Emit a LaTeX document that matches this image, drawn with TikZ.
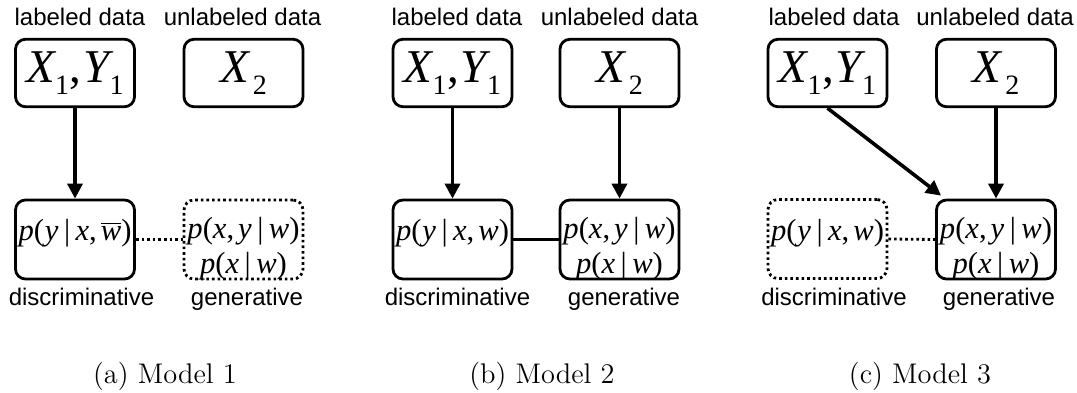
\documentclass[tikz,border=0pt]{standalone}
\usepackage{fontspec}
\newfontfamily\lsans{Liberation Sans}
\newfontfamily\lserif{Liberation Serif}
\usetikzlibrary{arrows.meta}
\newcommand{\subone}[1]{\lower6pt\hbox{\fontsize{14}{14}\selectfont #1}}
\newcommand{\XYone}{{\itshape X}\subone{1}\kern0.3pt,\kern1pt{\itshape Y}\subone{1}}
\newcommand{\Xtwo}{{\itshape X}\kern2pt\subone{2}}
\newcommand{\bsp}{\kern0.18em}
\newcommand{\csp}{\kern0.13em}
\newcommand{\pyxwbar}{{\itshape p}(\kern0.03em{\itshape y}\bsp|\bsp{\itshape x},\csp$\overline{\hbox{\itshape w}}$)}
\newcommand{\pyxw}{{\itshape p}(\kern0.03em{\itshape y}\bsp|\bsp{\itshape x},\csp{\itshape w})}
\newcommand{\pxyw}{{\itshape p}({\itshape x},\csp{\itshape y}\bsp|\bsp{\itshape w})}
\newcommand{\pxw}{{\itshape p}({\itshape x}\bsp|\bsp{\itshape w})}
\tikzset{
  topbox/.style={draw, line width=1.4pt, rounded corners=5pt, minimum width=59.5pt,
    minimum height=33.75pt, inner sep=0pt, font=\lserif\fontsize{23.5}{25}\selectfont},
  lowbox/.style={draw, line width=1.4pt, rounded corners=5pt, minimum width=59.5pt,
    minimum height=39.5pt, inner sep=0pt},
  dotbox/.style={lowbox, dash pattern=on 1.3pt off 1.5pt},
  mth/.style={font=\lserif\fontsize{15.3}{17.5}\selectfont, align=center, inner sep=0pt},
  lbl/.style={font=\lsans\fontsize{12}{14}\selectfont, anchor=base, inner sep=0pt},
  capt/.style={font=\fontsize{14.2}{17}\selectfont, anchor=base, inner sep=0pt},
  arr/.style={line width=1.8pt, -{Triangle[length=7.5pt,width=7.5pt]}},
  link/.style={line width=1.4pt},
  dotlink/.style={line width=1.4pt, dash pattern=on 1.3pt off 1.5pt}
}
\begin{document}
\begin{tikzpicture}[x=0.5pt,y=-0.5pt]
\useasboundingbox (0,0) rectangle (1077,392);
% ---------------- panel (a)
\node[lbl] (la) at (80,25) {labeled data};
\node[lbl] (ua) at (242.5,25) {unlabeled data};
\node[topbox] (a1) at (75,73) {\XYone};
\node[topbox] (a2) at (243.5,73) {\Xtwo};
\node[lowbox] (a3) at (75,239.5) {};
\node[dotbox] (a4) at (243.5,239.5) {};
\node[mth] (ta3) at (75,233) {\pyxwbar};
\node[mth] (ta4) at (243.5,249) {\pxyw\\\pxw};
\draw[arr] (a1.south) -- (a3.north);
\draw[dotlink] (a3.east) -- (a4.west);
\node[lbl] (da) at (81.5,305) {discriminative};
\node[lbl] (ga) at (247,305) {generative};
\node[capt] (ca) at (165,383) {(a) Model 1};
% ---------------- panel (b)
\node[lbl] (lb) at (457,25) {labeled data};
\node[lbl] (ub) at (619.5,25) {unlabeled data};
\node[topbox] (b1) at (452.5,73) {\XYone};
\node[topbox] (b2) at (619.5,73) {\Xtwo};
\node[lowbox] (b3) at (452.5,239.5) {};
\node[lowbox] (b4) at (619.5,239.5) {};
\node[mth] (tb3) at (452.5,233) {\pyxw};
\node[mth] (tb4) at (619.5,249) {\pxyw\\\pxw};
\draw[arr] (b1.south) -- (b3.north);
\draw[arr] (b2.south) -- (b4.north);
\draw[link] (b3.east) -- (b4.west);
\node[lbl] (db) at (457.5,305) {discriminative};
\node[lbl] (gb) at (624,305) {generative};
\node[capt] (cb) at (542,383) {(b) Model 2};
% ---------------- panel (c)
\node[lbl] (lc) at (834,25) {labeled data};
\node[lbl] (uc) at (995,25) {unlabeled data};
\node[topbox] (c1) at (827.5,73) {\XYone};
\node[topbox] (c2) at (996,73) {\Xtwo};
\node[dotbox] (c3) at (827.5,239) {};
\node[lowbox] (c4) at (996,239.5) {};
\node[mth] (tc3) at (827.5,233) {\pyxw};
\node[mth] (tc4) at (996,249) {\pxyw\\\pxw};
\draw[arr] (c1.south) -- ([xshift=3pt,yshift=1.5pt]c4.north west);
\draw[arr] (c2.south) -- (c4.north);
\draw[dotlink] (c3.east) -- (c4.west);
\node[lbl] (dc) at (834,305) {discriminative};
\node[lbl] (gc) at (999,305) {generative};
\node[capt] (cc) at (920,383) {(c) Model 3};
\end{tikzpicture}
\end{document}
